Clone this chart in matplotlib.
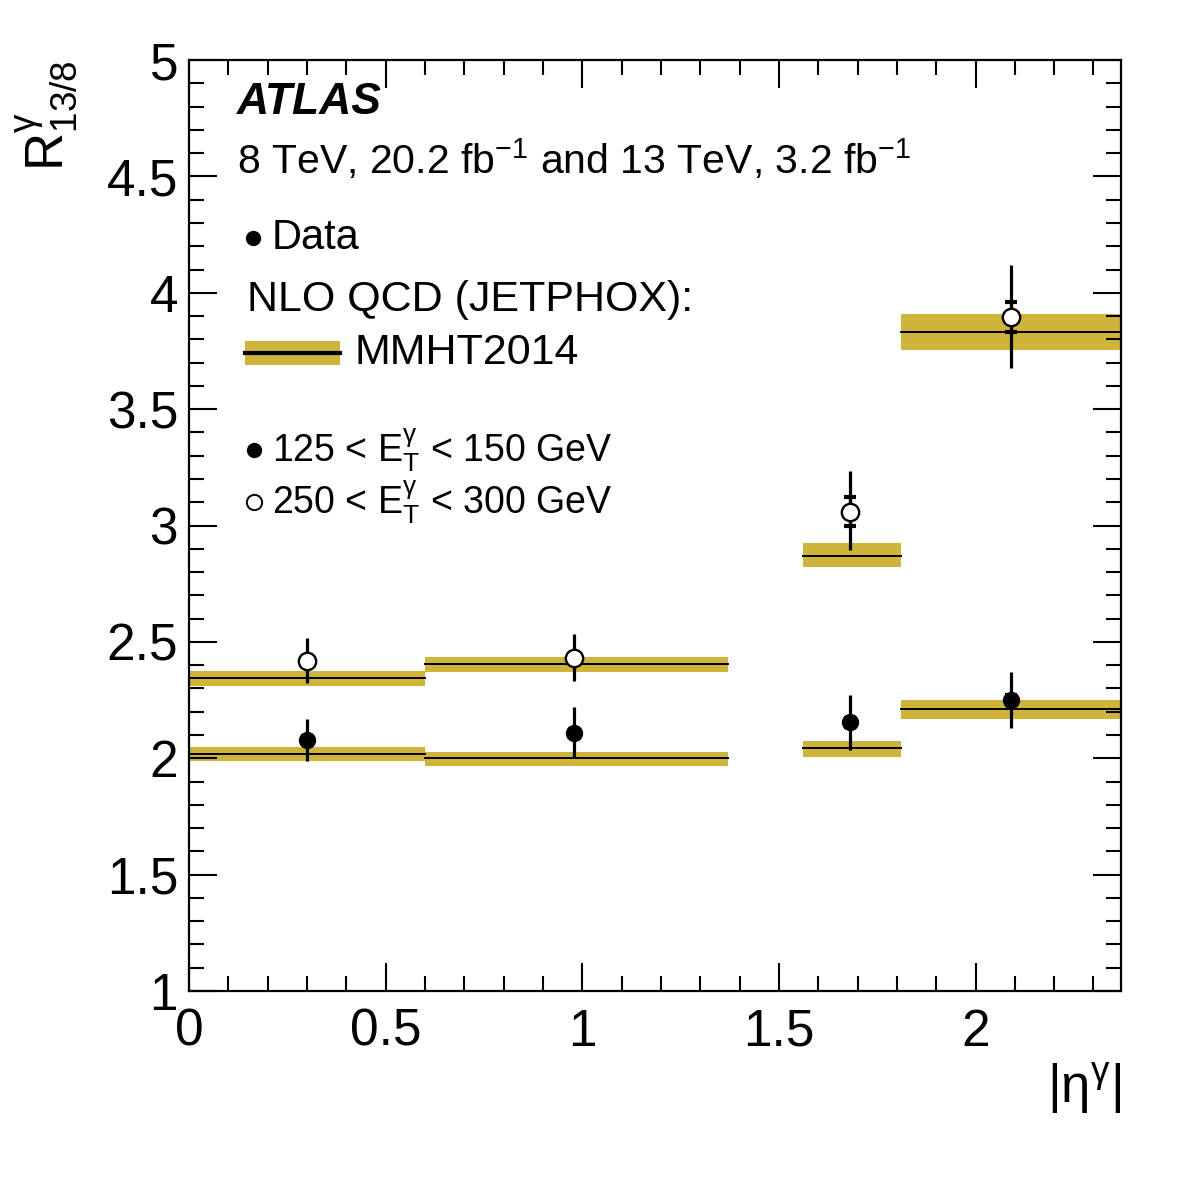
import numpy as np
import matplotlib
matplotlib.use("Agg")
import matplotlib.pyplot as plt
from matplotlib.ticker import MultipleLocator

plt.rcParams['font.family'] = ['Liberation Sans', 'DejaVu Sans']
plt.rcParams['mathtext.fontset'] = 'custom'
plt.rcParams['mathtext.rm'] = 'Liberation Sans'
plt.rcParams['mathtext.it'] = 'Liberation Sans:italic'
plt.rcParams['mathtext.default'] = 'regular'

# bins in |eta|
bin_lo = [0.0, 0.6, 1.56, 1.81]
bin_hi = [0.6, 1.37, 1.81, 2.37]
eta_pts = [0.30, 0.98, 1.68, 2.09]

# 125 < ET < 150 GeV (filled)
low_val = [2.08, 2.11, 2.155, 2.25]
low_up = [0.09, 0.11, 0.115, 0.12]
low_dn = [0.09, 0.105, 0.12, 0.12]
low_stat = [0.015, 0.015, 0.02, 0.02]

# 250 < ET < 300 GeV (open)
high_val = [2.42, 2.43, 3.06, 3.895]
high_up = [0.095, 0.105, 0.175, 0.225]
high_dn = [0.095, 0.10, 0.165, 0.22]
high_stat = [0.02, 0.02, 0.062, 0.065]

# NLO QCD (JETPHOX) MMHT2014
th_low = [2.02, 2.0, 2.044, 2.21]
th_low_up = [0.028, 0.027, 0.03, 0.04]
th_low_dn = [0.032, 0.033, 0.039, 0.041]
th_high = [2.345, 2.405, 2.87, 3.83]
th_high_up = [0.03, 0.03, 0.055, 0.08]
th_high_dn = [0.035, 0.035, 0.05, 0.076]

band_col = '#CFB43C'

fig = plt.figure(figsize=(11.82, 11.82), dpi=100)
ax = fig.add_axes([0.160, 0.1616, 0.7884, 0.7876])

for i in range(len(bin_lo)):
    for c, u, d in [(th_low[i], th_low_up[i], th_low_dn[i]),
                    (th_high[i], th_high_up[i], th_high_dn[i])]:
        ax.fill_between([bin_lo[i], bin_hi[i]], c - d, c + u, color=band_col,
                        linewidth=0, zorder=1)
        ax.plot([bin_lo[i], bin_hi[i]], [c, c], color='black', lw=1.4, zorder=2)

# total errors
ax.errorbar(eta_pts, low_val, yerr=[low_dn, low_up], fmt='none', ecolor='black',
            elinewidth=2.3, capsize=0, zorder=3)
ax.errorbar(eta_pts, high_val, yerr=[high_dn, high_up], fmt='none', ecolor='black',
            elinewidth=2.3, capsize=0, zorder=3)
# stat errors
ax.errorbar(eta_pts, low_val, yerr=low_stat, fmt='none', ecolor='black',
            elinewidth=2.3, capsize=4, capthick=3, zorder=3)
ax.errorbar(eta_pts, high_val, yerr=high_stat, fmt='none', ecolor='black',
            elinewidth=2.3, capsize=4, capthick=3, zorder=3)
ax.plot(eta_pts, low_val, 'o', color='black', ms=11.5, zorder=4)
ax.plot(eta_pts, high_val, 'o', mfc='white', mec='black', mew=1.7, ms=12.5, zorder=4)

ax.set_xlim(0, 2.37)
ax.set_ylim(1, 5)
ax.xaxis.set_major_locator(MultipleLocator(0.5))
ax.xaxis.set_minor_locator(MultipleLocator(0.1))
ax.yaxis.set_major_locator(MultipleLocator(0.5))
ax.yaxis.set_minor_locator(MultipleLocator(0.1))
ax.set_xticks([0, 0.5, 1, 1.5, 2])
ax.set_xticklabels(['0', '0.5', '1', '1.5', '2'])
ax.set_yticks([1, 1.5, 2, 2.5, 3, 3.5, 4, 4.5, 5])
ax.set_yticklabels(['1', '1.5', '2', '2.5', '3', '3.5', '4', '4.5', '5'])
ax.tick_params(which='both', direction='in', top=True, right=True, width=1.5,
               labelsize=37)
ax.tick_params(which='major', length=20)
ax.tick_params(which='minor', length=10.5)
ax.tick_params(axis='x', pad=12)
ax.tick_params(axis='y', pad=8)
for s in ax.spines.values():
    s.set_linewidth(1.6)

ax.text(1.0, -0.105, r'|$\eta^{\gamma}$|', transform=ax.transAxes, ha='right',
        va='center', fontsize=38)
ax.text(-0.152, 1.0, r'R$^{\gamma}_{13/8}$', transform=ax.transAxes, ha='center',
        va='top', rotation=90, fontsize=38)

# labels and legend
ax.text(0.0515, 0.954, 'ATLAS', transform=ax.transAxes, fontsize=32,
        fontweight='bold', fontstyle='italic', va='center')
ax.text(0.0515, 0.893, r'8 TeV, 20.2 fb$^{-1}$ and 13 TeV, 3.2 fb$^{-1}$',
        transform=ax.transAxes, fontsize=29.5, va='center')
ax.plot([0.0687], [0.809], 'o', color='black', ms=10, transform=ax.transAxes, clip_on=False)
ax.text(0.089, 0.809, 'Data', transform=ax.transAxes, fontsize=30, va='center')
ax.text(0.062, 0.742, 'NLO QCD (JETPHOX):', transform=ax.transAxes, fontsize=31, va='center')
ax.fill_between([0.060, 0.162], 0.672, 0.698, color=band_col, linewidth=0,
                transform=ax.transAxes)
ax.plot([0.060, 0.162], [0.685, 0.685], color='black', lw=3, transform=ax.transAxes)
ax.text(0.178, 0.685, 'MMHT2014', transform=ax.transAxes, fontsize=31, va='center')
ax.plot([0.0697], [0.581], 'o', color='black', ms=10, transform=ax.transAxes)
ax.text(0.089, 0.581, r'125 < E$_{T}^{\gamma}$ < 150 GeV', transform=ax.transAxes,
        fontsize=27, va='center')
ax.plot([0.0697], [0.525], 'o', mfc='white', mec='black', mew=1.4, ms=11,
        transform=ax.transAxes)
ax.text(0.089, 0.525, r'250 < E$_{T}^{\gamma}$ < 300 GeV', transform=ax.transAxes,
        fontsize=27, va='center')

fig.savefig('out.png', dpi=100)
